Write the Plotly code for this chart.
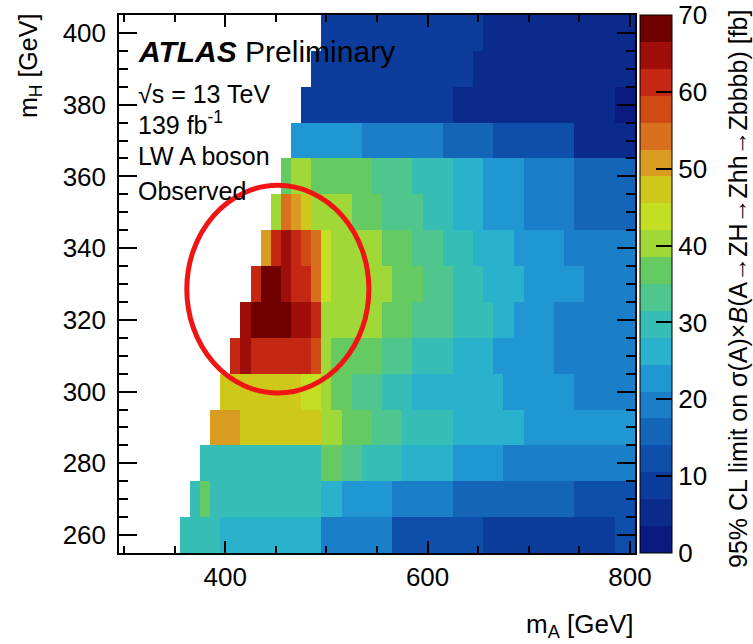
import plotly.graph_objects as go

# ---------------- data ----------------
mA_bins = list(range(300, 801, 10))          # bin centres, GeV
mH_bins = list(range(260, 401, 10))          # bin centres, GeV

# observed 95% CL limit [fb] per m_H row: (m_A from, m_A to, value)
limit_mH260 = [(360, 390, 29), (400, 490, 26), (500, 560, 19), (570, 650, 13), (660, 780, 9), (790, 800, 11)]
limit_mH270 = [(370, 370, 29), (380, 380, 36), (390, 490, 28.2), (500, 510, 25), (520, 560, 22), (570, 620, 19),
               (630, 740, 16), (750, 800, 13)]
limit_mH280 = [(380, 490, 29), (500, 510, 35.5), (520, 530, 33), (540, 570, 30), (580, 620, 26), (630, 670, 22),
               (680, 800, 19.5)]
limit_mH290 = [(390, 410, 50), (420, 490, 46), (500, 510, 39), (520, 540, 35.5), (550, 570, 32), (580, 620, 29),
               (630, 690, 25), (700, 800, 22)]
limit_mH300 = [(400, 470, 46), (480, 490, 42.5), (500, 500, 39), (510, 520, 36), (530, 550, 33), (560, 580, 30),
               (590, 610, 27), (620, 670, 25), (680, 740, 22), (750, 800, 19)]
limit_mH310 = [(410, 410, 60), (420, 420, 64), (430, 450, 62), (460, 480, 60), (490, 490, 57), (500, 500, 40),
               (510, 520, 38), (530, 550, 36), (560, 580, 34), (590, 620, 31), (630, 660, 27), (670, 720, 22),
               (730, 800, 19)]
limit_mH320 = [(420, 420, 65), (430, 430, 68), (440, 450, 69.5), (460, 460, 67), (470, 470, 65), (480, 480, 63),
               (490, 490, 62), (500, 520, 41), (530, 550, 39), (560, 580, 36), (590, 620, 32), (630, 660, 29),
               (670, 680, 26), (690, 720, 23), (730, 800, 20)]
limit_mH330 = [(430, 430, 61), (440, 440, 69.5), (450, 450, 68), (460, 460, 65), (470, 470, 62), (480, 480, 61),
               (490, 490, 55), (500, 500, 43), (510, 560, 40), (570, 590, 36), (600, 620, 33), (630, 650, 29),
               (660, 670, 27), (680, 690, 26), (700, 750, 22), (760, 800, 19.5)]
limit_mH340 = [(440, 440, 50), (450, 450, 62), (460, 460, 65), (470, 470, 62), (480, 480, 58), (490, 490, 53),
               (500, 500, 43), (510, 550, 41), (560, 580, 36), (590, 610, 33), (620, 640, 29), (650, 680, 26),
               (690, 730, 22), (740, 800, 19)]
limit_mH350 = [(450, 450, 40), (460, 460, 54), (470, 470, 50), (480, 480, 46), (490, 520, 40), (530, 550, 37),
               (560, 590, 33), (600, 620, 29), (630, 650, 27), (660, 690, 23), (700, 740, 19), (750, 800, 16)]
limit_mH360 = [(460, 460, 36), (470, 480, 40), (490, 540, 36), (550, 580, 32), (590, 620, 29), (630, 650, 26),
               (660, 690, 22), (700, 740, 19), (750, 800, 16)]
limit_mH370 = [(470, 530, 21.5), (540, 610, 19), (620, 660, 16), (670, 740, 12), (750, 800, 6)]
limit_mH380 = [(480, 620, 9), (630, 780, 5.5), (790, 800, 3)]
limit_mH390 = [(490, 640, 9), (650, 800, 5.5)]
limit_mH400 = [(500, 650, 9), (660, 800, 5.5)]

rows = [limit_mH260, limit_mH270, limit_mH280, limit_mH290, limit_mH300, limit_mH310, limit_mH320,
        limit_mH330, limit_mH340, limit_mH350, limit_mH360, limit_mH370, limit_mH380, limit_mH390, limit_mH400]

colorbar_ticks = [0, 10, 20, 30, 40, 50, 60, 70]

# ---------------- styling ----------------
band_colors = ["#0a1a80", "#0a2a8c", "#0c3c9c", "#0f4fac", "#1464b8", "#1a7ec9", "#2096d2", "#2ab2cc",
               "#36beb6", "#4ec68e", "#66ca62", "#a0d838", "#c4de22", "#cec81a", "#da9c20", "#d8701e",
               "#d04a14", "#c42812", "#a00e0a", "#700000"]
n = len(band_colors)
colorscale = []
for k, c in enumerate(band_colors):
    colorscale.append([k / n, c])
    colorscale.append([(k + 1) / n, c])

z = [[None] * len(mA_bins) for _ in mH_bins]
for i, segs in enumerate(rows):
    for a0, a1, v in segs:
        for j, ma in enumerate(mA_bins):
            if a0 <= ma <= a1:
                z[i][j] = v

FONT = "Liberation Sans, Arial, Helvetica, sans-serif"
W, H = 753, 644
ML, MR, MT, MB = 119, 118, 15, 91
PW, PH = W - ML - MR, H - MT - MB


def px_x(p):
    return (p - ML) / PW


def px_y(p):
    return (H - MB - p) / PH


fig = go.Figure(go.Heatmap(
    x=mA_bins, y=mH_bins, z=z, zmin=0, zmax=70,
    colorscale=colorscale, hoverongaps=False,
    colorbar=dict(
        x=px_x(640), xanchor="left", xpad=0, ypad=0,
        y=0.5, yanchor="middle", len=1, lenmode="fraction",
        thickness=32, thicknessmode="pixels",
        outlinecolor="black", outlinewidth=1,
        tickmode="array", tickvals=colorbar_ticks,
        ticks="inside", ticklen=16, tickwidth=1.5, tickcolor="black",
        tickfont=dict(family=FONT, size=26, color="black"),
    ),
))

axis_common = dict(showline=True, linecolor="black", linewidth=1.5, mirror="ticks",
                   ticks="inside", tickcolor="black", tickwidth=1.5, showgrid=False, zeroline=False,
                   tickfont=dict(family=FONT, size=26, color="black"))

fig.update_xaxes(range=[295, 805], tickvals=[400, 600, 800], ticklen=12,
                 minor=dict(ticks="inside", tick0=300, dtick=50, ticklen=7, tickcolor="black", tickwidth=1.5),
                 **axis_common)
fig.update_yaxes(range=[255, 405], tick0=260, dtick=20, ticklen=18, ticklabelstandoff=6,
                 minor=dict(ticks="inside", tick0=255, dtick=5, ticklen=9, tickcolor="black", tickwidth=1.5),
                 **axis_common)

annotations = [
    dict(text="<b><i>ATLAS</i></b> Preliminary", x=px_x(136), y=px_y(51), xanchor="left", yanchor="middle",
         font=dict(size=30)),
    dict(text="\u221As = 13 TeV", x=px_x(136), y=px_y(94), xanchor="left", yanchor="middle", font=dict(size=25)),
    dict(text="139 fb<sup>-1</sup>", x=px_x(136), y=px_y(123), xanchor="left", yanchor="middle", font=dict(size=25)),
    dict(text="LW A boson", x=px_x(136), y=px_y(156), xanchor="left", yanchor="middle", font=dict(size=25)),
    dict(text="Observed", x=px_x(136), y=px_y(191), xanchor="left", yanchor="middle", font=dict(size=25)),
    dict(text="m<sub>H</sub> [GeV]", textangle=-90, x=px_x(30), y=px_y(12), xanchor="center", yanchor="top",
         font=dict(size=25)),
    dict(text="m<sub>A</sub> [GeV]", x=px_x(636), y=px_y(625), xanchor="right", yanchor="middle",
         font=dict(size=26)),
    dict(text="95% CL limit on \u03c3(A)\u00d7<i>B</i>(A\u2192ZH\u2192Zhh\u2192Zbbbb) [fb]", textangle=-90,
         x=px_x(738), y=px_y(8), xanchor="center", yanchor="top", font=dict(size=25)),
]
for a in annotations:
    a.update(xref="paper", yref="paper", showarrow=False)
    a["font"].update(family=FONT, color="black")

fig.update_layout(
    width=W, height=H, margin=dict(l=ML, r=MR, t=MT, b=MB),
    paper_bgcolor="white", plot_bgcolor="white",
    annotations=annotations,
    shapes=[dict(type="circle", xref="x", yref="y", x0=362, x1=542, y0=299.6, y1=357.5,
                 line=dict(color="#f01414", width=5))],
    showlegend=False,
)

fig.write_html("out.html", config={"displayModeBar": False},
               post_script="document.body.style.margin='0';document.body.style.overflow='hidden';")
